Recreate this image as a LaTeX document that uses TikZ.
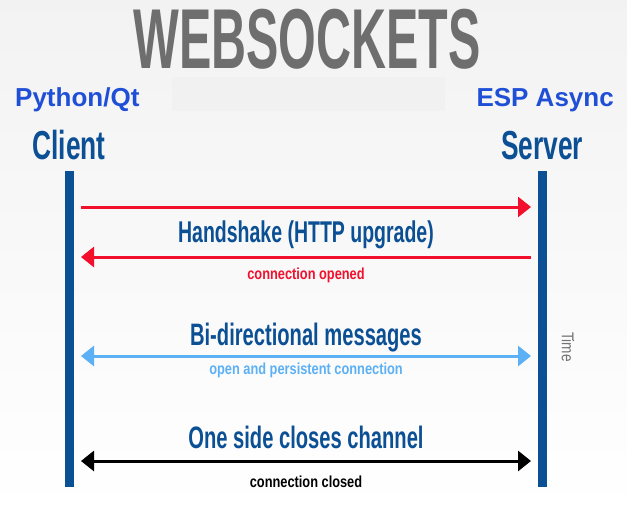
\documentclass[tikz,border=0pt]{standalone}
\usepackage{fontspec}
\setmainfont{Liberation Sans}
\newfontfamily\titlefont[FakeStretch=0.57]{Liberation Sans}
\newfontfamily\headfont[FakeStretch=0.65]{Liberation Sans}
\newfontfamily\notefont[FakeStretch=0.8]{Liberation Sans}
\usetikzlibrary{arrows.meta}
\definecolor{wsgray}{HTML}{6E6E6E}
\definecolor{wsnavy}{HTML}{0B4F94}
\definecolor{wsblue}{HTML}{1F4FD6}
\definecolor{wsred}{HTML}{F2102C}
\definecolor{wssky}{HTML}{5CB0F5}
\tikzset{
  lifeline/.style={line width=9pt,wsnavy},
  msg/.style={line width=3pt,-{Triangle[length=13pt,width=20pt]}},
  bimsg/.style={line width=3pt,{Triangle[length=13pt,width=20pt]}-{Triangle[length=13pt,width=20pt]}},
  caption/.style={anchor=base,inner sep=0pt,text=wsnavy,font=\headfont\bfseries\fontsize{30}{32}\selectfont},
  note/.style={anchor=base,inner sep=0pt,font=\notefont\bfseries\fontsize{16}{18}\selectfont},
  side/.style={anchor=base,inner sep=0pt,text=wsblue,font=\bfseries\fontsize{26}{28}\selectfont},
  role/.style={anchor=base,inner sep=0pt,text=wsnavy,font=\headfont\bfseries\fontsize{40.5}{42}\selectfont}
}
\begin{document}
\begin{tikzpicture}[x=1pt,y=-1pt]
      \useasboundingbox (0,0) rectangle (627,512);
      \shade[top color=black!5,bottom color=white] (0,0) rectangle (627,512);
      \fill[black!5.5] (172,77) rectangle (445,111);

      \node[anchor=base,inner sep=0pt,text=wsgray,font=\titlefont\bfseries\fontsize{85}{90}\selectfont] (title) at (307,68) {WEBSOCKETS};
      \node[side,anchor=base west] (python) at (15,106) {Python/Qt};
      \node[side,anchor=base east] (esp) at (614,106) {ESP Async};
      \node[role] (client) at (69,159) {Client};
      \node[role] (server) at (542,159) {Server};

      \coordinate (cTop) at (69,171);
      \coordinate (cBot) at (69,487);
      \coordinate (sTop) at (542,171);
      \coordinate (sBot) at (542,487);
      \draw[lifeline] (cTop) -- (cBot);
      \draw[lifeline] (sTop) -- (sBot);

      \coordinate (c1) at (81,207);
      \coordinate (s1) at (531,207);
      \coordinate (c2) at (81,257);
      \coordinate (s2) at (531,257);
      \coordinate (c3) at (81,356);
      \coordinate (s3) at (531,356);
      \coordinate (c4) at (81,461);
      \coordinate (s4) at (531,461);

      \draw[msg,wsred] (c1) -- (s1);
      \node[caption] (handshake) at (306,242) {Handshake (HTTP upgrade)};
      \draw[msg,wsred] (s2) -- (c2);
      \node[note,text=wsred] (opened) at (306,279) {connection opened};

      \node[caption,font=\headfont\bfseries\fontsize{31}{33}\selectfont] (bidir) at (306,345) {Bi-directional messages};
      \draw[bimsg,wssky] (c3) -- (s3);
      \node[note,text=wssky] (persist) at (306,374) {open and persistent connection};

      \node[caption,font=\headfont\bfseries\fontsize{31}{33}\selectfont] (closes) at (306,448) {One side closes channel};
      \draw[bimsg,black] (c4) -- (s4);
      \node[note,text=black] (closed) at (306,487) {connection closed};

      \node[inner sep=0pt,rotate=-90,text=black!55,font=\notefont\fontsize{17}{19}\selectfont] (time) at (568,347) {Time};
   \end{tikzpicture}
\end{document}
